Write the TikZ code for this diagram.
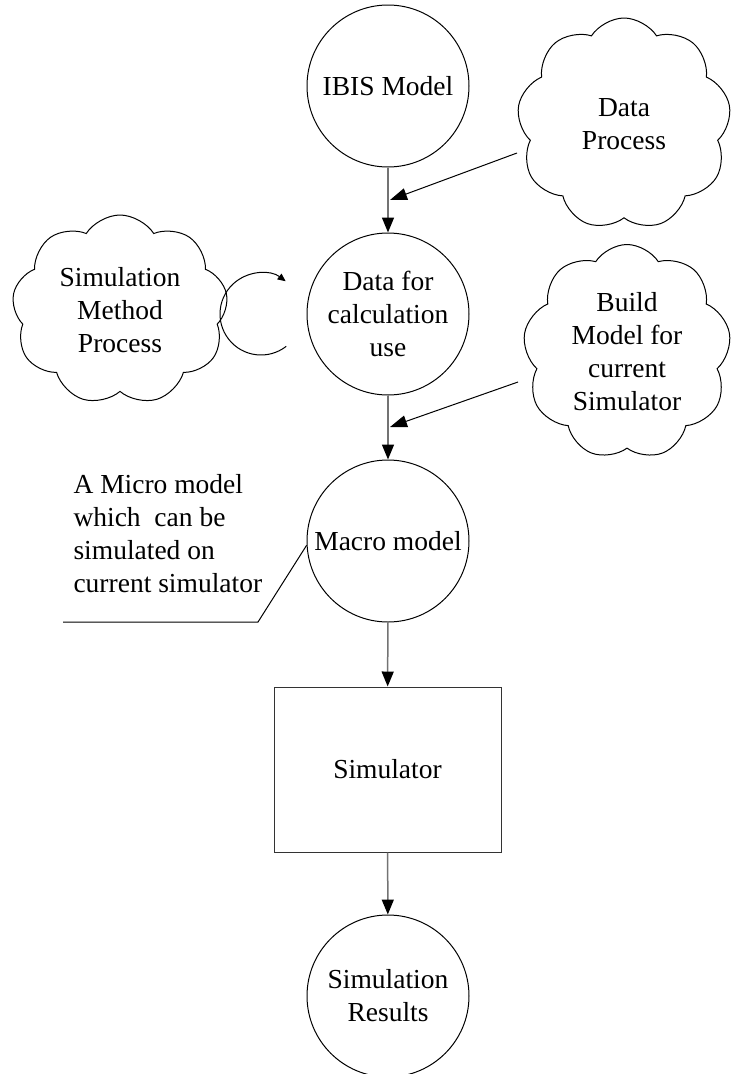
\documentclass[tikz,border=0pt]{standalone}
\usepackage{fontspec}
\setmainfont{Liberation Serif}
\usetikzlibrary{arrows.meta,shapes.symbols}
\begin{document}
\begin{tikzpicture}[x=1pt,y=-1pt,
  every node/.style={font=\fontsize{27.5}{33}\selectfont, align=center},
  bubble/.style={circle, draw=black, line width=1pt, minimum size=162pt, inner sep=0pt},
  puff/.style={cloud, cloud puffs=9, cloud puff arc=115, cloud ignores aspect, draw=black, line width=1pt, inner sep=0pt},
  flow/.style={draw=black!55, line width=1.5pt, -{Triangle[length=15pt,width=12pt,color=black]}},
  feed/.style={draw=black, line width=1pt, -{Triangle[length=17pt,width=12pt]}},
  lead/.style={draw=black, line width=1pt}]
\useasboundingbox (0,0) rectangle (731,1074);

% main chain
\node[bubble] (ibis) at (388,86) {IBIS Model};
\node[bubble] (calc) at (388,314) {Data for\\calculation\\use};
\node[bubble] (macro) at (388,541) {Macro model};
\node[draw=black!80, line width=1pt, minimum width=227pt, minimum height=165pt, inner sep=0pt] (sim) at (387.5,769.5) {Simulator};
\node[bubble] (res) at (388,996) {Simulation\\Results};

% side processes
\node[puff, minimum width=214pt, minimum height=212pt] (dp) at (624,124) {Data\\Process};
\node[puff, minimum width=216pt, minimum height=190pt] (smp) at (120,310) {Simulation\\Method\\Process};
\node[puff, minimum width=208pt, minimum height=215pt] (bm) at (627,352) {Build\\Model for\\current\\Simulator};

% callout text
\node[align=left, anchor=west] (note) at (70,534) {A Micro model\\which~~can be\\simulated on\\current simulator};

% flow arrows
\draw[flow] (ibis) -- (calc);
\draw[flow] (calc) -- (macro);
\draw[flow] (macro) -- (sim);
\draw[flow] (sim) -- (res);

% feeds into the chain
\coordinate (dpout) at (517,153);
\coordinate (dpin) at (390,200);
\coordinate (bmout) at (518,382);
\coordinate (bmin) at (390,427);
\draw[feed] (dpout) -- (dpin);
\draw[feed] (bmout) -- (bmin);

% iteration loop
\coordinate (loop) at (261,314);
\draw[line width=1pt, -{Triangle[length=8pt,width=7pt]}]
  ([shift={(-52:41pt)}]loop) arc[start angle=-52, end angle=-307, radius=41pt];

% callout leader
\coordinate (bend) at (258,622);
\coordinate (tail) at (63,622);
\draw[lead] (macro.183) -- (bend) -- (tail);
\end{tikzpicture}
\end{document}
